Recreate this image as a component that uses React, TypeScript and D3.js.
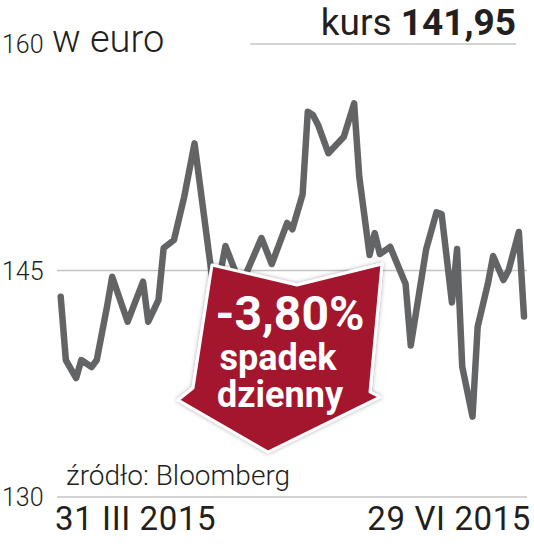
import React from "react";
import * as d3 from "d3";

// calendar days since 31 III 2015
const days = [0,1,3,4,6,7,9,10,13,16,17,19,20,22,24,26,30,32,35,39,41,44,45,47,48,49,50,52,55,57,58,60,61,62,64,67,68,71,73,74,76,77,78,80,81,83,84,86,87,89,90];
const prices = [143.26,139.07,137.88,139.07,138.61,139.07,142.6,144.59,141.61,144.26,141.61,143.05,146.49,147.02,149.89,153.42,143.0,146.62,144.0,147.15,145.43,148.15,147.73,150.05,155.52,155.3,154.64,152.77,153.86,156.07,151.21,146.03,147.48,146.09,146.57,144.1,140.03,146.42,148.85,148.74,142.89,146.42,138.63,135.32,141.28,144.15,145.96,144.37,145.0,147.55,141.95];
const yTicks = [160, 145, 130];
const xLabels = ["31 III 2015", "29 VI 2015"];
const unitLabel = "w euro";
const lastLabel = "kurs";
const lastValue = "141,95";
const changeLines = ["-3,80%", "spadek", "dzienny"];
const sourceLabel = "źródło: Bloomberg";

const W = 534, H = 544;

export default function App() {
  const x = d3.scaleLinear().domain([0, 90]).range([60.7, 524]);
  const y = d3.scaleLinear().domain([130, 160]).range([497, 44]);
  const data = days.map((d, i) => ({ d, v: prices[i] }));
  const line = d3.line<{ d: number; v: number }>().x(p => x(p.d)).y(p => y(p.v));
  const arrow = "M212,265 L297,285 L382,264 L370,392 L380,397 L268,452 L178,400 L193,388 Z";
  const textCol = "#231f20";
  return (
    <svg width={W} height={H} style={{ position: "absolute", left: 0, top: 0 }} fontFamily="Roboto">
      <defs>
        <filter id="sh" x="-20%" y="-20%" width="140%" height="140%">
          <feDropShadow dx="0" dy="0" stdDeviation="2" floodColor="#000" floodOpacity="0.35" />
        </filter>
      </defs>
      <rect width={W} height={H} fill="#fff" />
      {/* grid */}
      <line x1={250} x2={516} y1={y(160)} y2={y(160)} stroke="#c4c4c4" strokeWidth={1.5} />
      {yTicks.slice(1).map(t => (
        <line key={t} x1={57} x2={527} y1={y(t)} y2={y(t)} stroke="#c4c4c4" strokeWidth={1.5} />
      ))}
      {yTicks.map(t => (
        <text key={"l" + t} x={2} y={y(t)} dy="0.36em" fontSize={25} fontWeight={300} fill={textCol}>{t}</text>
      ))}
      <text x={52} y={52} fontSize={38} fontWeight={300} fill={textCol}>{unitLabel}</text>
      <text x={516} y={35} fontSize={37} textAnchor="end" fill={textCol}>
        <tspan>{lastLabel} </tspan>
        <tspan fontWeight={700}>{lastValue}</tspan>
      </text>
      {/* series */}
      <path d={line(data) || ""} fill="none" stroke="#636466" strokeWidth={6.5} strokeLinejoin="round" strokeLinecap="round" />
      {/* annotation arrow */}
      <path d={arrow} fill="#a4122d" stroke="#fff" strokeWidth={3} strokeLinejoin="round" filter="url(#sh)" />
      <text x={290} y={330} fontSize={48} fontWeight={700} fill="#fff" textAnchor="middle">{changeLines[0]}</text>
      <text x={278} y={370} fontSize={36} fontWeight={700} fill="#fff" textAnchor="middle">{changeLines[1]}</text>
      <text x={280} y={407} fontSize={36} fontWeight={700} fill="#fff" textAnchor="middle">{changeLines[2]}</text>
      <text x={66} y={485} fontSize={28} fontWeight={300} fill={textCol}>{sourceLabel}</text>
      <text x={55} y={530} fontSize={33} letterSpacing={0.6} fill={textCol}>{xLabels[0]}</text>
      <text x={531} y={530} fontSize={33} letterSpacing={0.6} textAnchor="end" fill={textCol}>{xLabels[1]}</text>
    </svg>
  );
}
